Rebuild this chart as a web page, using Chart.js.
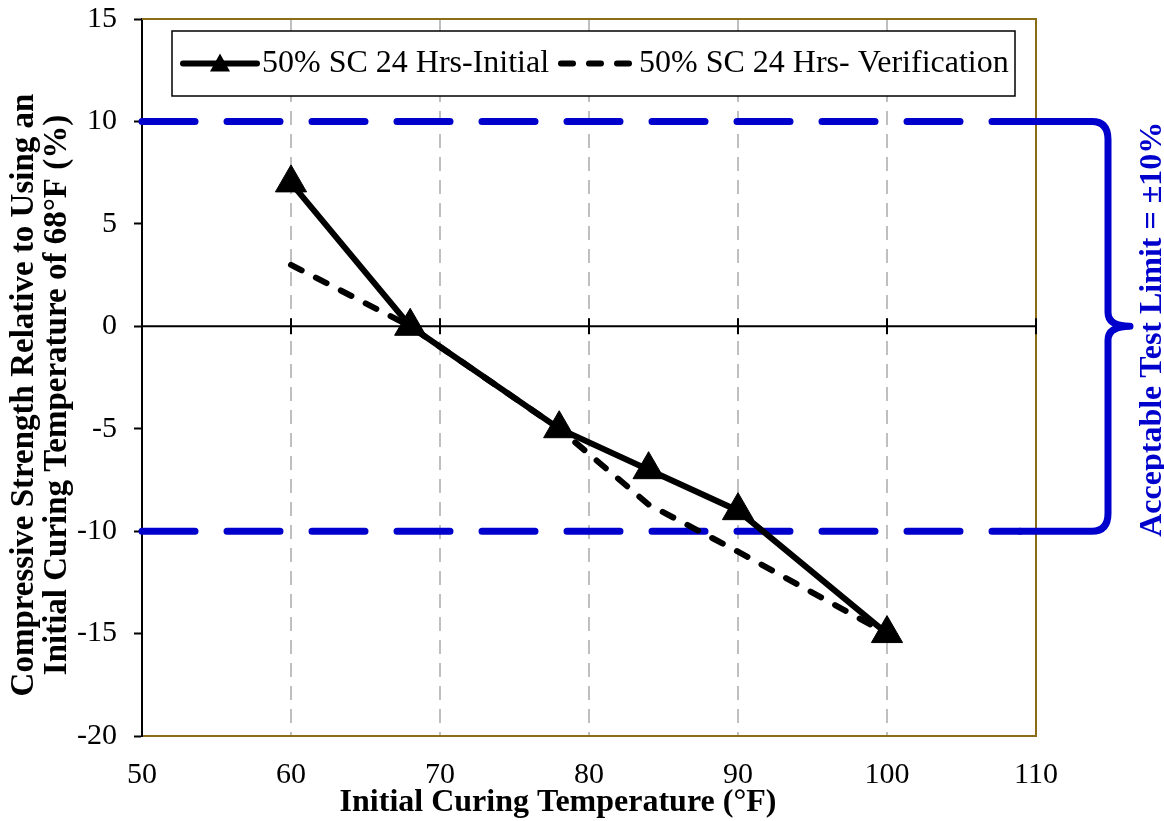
<!DOCTYPE html>
<html>
<head>
<meta charset="utf-8">
<script src="https://cdn.jsdelivr.net/npm/chart.js@4.4.1/dist/chart.umd.min.js"></script>
<style>
  html, body { margin: 0; padding: 0; background: #fff; }
  #wrap { width: 1164px; height: 821px; }
</style>
</head>
<body>
<div id="wrap"><canvas id="curingChart" width="1164" height="821"></canvas></div>
<script>
// Values
const temps = [60, 68, 78, 84, 90, 100];
const initialValues = [7, 0, -5, -7, -9, -15];
const verificationValues = [3, 0, -5, -8.7, -11, -15];
const limitValues = [10, -10];
const xTicks = [50, 60, 70, 80, 90, 100, 110];
const yTicks = [-20, -15, -10, -5, 0, 5, 10, 15];
const seriesLabels = ['50% SC 24 Hrs-Initial', '50% SC 24 Hrs- Verification'];

const serif = "'Liberation Serif', 'Times New Roman', serif";
const frameColor = '#8B6D17';
const limitBlue = '#0000CC';

// Draws the frame, zero line, limit lines, brace, legend and titles
const extras = {
    id: 'extras',
    beforeDatasetsDraw(chart) {
        const { ctx, chartArea: a, scales: { x, y } } = chart;
        ctx.save();

        // top and right edges of the plot frame
        ctx.strokeStyle = frameColor;
        ctx.lineWidth = 2;
        ctx.beginPath();
        ctx.moveTo(a.left, a.top);
        ctx.lineTo(a.right, a.top);
        ctx.lineTo(a.right, a.bottom);
        ctx.stroke();

        // zero line with crossing tick marks
        const y0 = y.getPixelForValue(0);
        ctx.strokeStyle = '#000';
        ctx.lineWidth = 2;
        ctx.beginPath();
        ctx.moveTo(a.left, y0);
        ctx.lineTo(a.right, y0);
        xTicks.forEach(t => {
            const px = x.getPixelForValue(t);
            ctx.moveTo(px, y0 - 8);
            ctx.lineTo(px, y0 + 8);
        });
        ctx.stroke();

        // acceptable limit lines (dashed blue)
        const braceStart = a.right - 16;
        ctx.strokeStyle = limitBlue;
        ctx.lineWidth = 7;
        ctx.lineCap = 'round';
        ctx.setLineDash([53, 32]);
        limitValues.forEach(v => {
            const py = y.getPixelForValue(v);
            ctx.beginPath();
            ctx.moveTo(a.left, py);
            ctx.lineTo(braceStart, py);
            ctx.stroke();
        });
        ctx.setLineDash([]);

        // curly brace
        const yTop = y.getPixelForValue(limitValues[0]);
        const yBot = y.getPixelForValue(limitValues[1]);
        const bx = a.right + 72;
        ctx.lineJoin = 'round';
        ctx.beginPath();
        ctx.moveTo(braceStart, yTop);
        ctx.lineTo(bx - 16, yTop);
        ctx.quadraticCurveTo(bx, yTop, bx, yTop + 18);
        ctx.lineTo(bx, y0 - 14);
        ctx.quadraticCurveTo(bx, y0, bx + 22, y0);
        ctx.quadraticCurveTo(bx, y0, bx, y0 + 14);
        ctx.lineTo(bx, yBot - 18);
        ctx.quadraticCurveTo(bx, yBot, bx - 16, yBot);
        ctx.lineTo(braceStart, yBot);
        ctx.stroke();

        // brace label
        ctx.translate(a.right + 117, y0 + 3);
        ctx.rotate(-Math.PI / 2);
        ctx.fillStyle = limitBlue;
        ctx.font = 'bold 32px ' + serif;
        ctx.textAlign = 'center';
        ctx.textBaseline = 'middle';
        ctx.fillText('Acceptable Test Limit = \u00B110%', 0, 0);
        ctx.restore();
    },
    afterDatasetsDraw(chart) {
        const { ctx, chartArea: a } = chart;
        const ds = chart.data.datasets;
        ctx.save();

        // legend box
        const lx = a.left + 30, ly = a.top + 12, lw = 843, lh = 65;
        const my = ly + lh / 2;
        ctx.fillStyle = '#fff';
        ctx.fillRect(lx, ly, lw, lh);
        ctx.strokeStyle = '#000';
        ctx.lineWidth = 1.5;
        ctx.strokeRect(lx, ly, lw, lh);

        ctx.font = '32px ' + serif;
        ctx.textBaseline = 'middle';
        ctx.textAlign = 'left';
        ctx.fillStyle = '#000';

        // entry 1: solid line with triangle
        ctx.strokeStyle = '#000';
        ctx.lineWidth = 6;
        ctx.lineCap = 'round';
        ctx.beginPath();
        ctx.moveTo(a.left + 41, my);
        ctx.lineTo(a.left + 115, my);
        ctx.stroke();
        const tx = a.left + 78;
        ctx.beginPath();
        ctx.moveTo(tx, my - 10);
        ctx.lineTo(tx + 10, my + 8);
        ctx.lineTo(tx - 10, my + 8);
        ctx.closePath();
        ctx.fill();
        ctx.fillText(ds[0].label, a.left + 120, my);

        // entry 2: dashed line
        ctx.setLineDash(ds[1].borderDash);
        ctx.beginPath();
        ctx.moveTo(a.left + 419, my);
        ctx.lineTo(a.left + 491, my);
        ctx.stroke();
        ctx.setLineDash([]);
        ctx.fillText(ds[1].label, a.left + 497, my);

        // axis titles
        ctx.font = 'bold 32px ' + serif;
        ctx.textAlign = 'center';
        ctx.fillText('Initial Curing Temperature (\u00B0F)', 558, 803);
        ctx.font = 'bold 33px ' + serif;
        ctx.translate(0, 395);
        ctx.rotate(-Math.PI / 2);
        ctx.fillText('Compressive Strength Relative to Using an', 0, 24);
        ctx.fillText('Initial Curing Temperature of 68\u00B0F (%)', 0, 57);
        ctx.restore();
    }
};

const ctx = document.getElementById('curingChart').getContext('2d');
const curingChart = new Chart(ctx, {
    type: 'scatter',
    data: {
        datasets: [{
            label: seriesLabels[0],
            data: temps.map((t, i) => ({ x: t, y: initialValues[i] })),
            showLine: true,
            borderColor: '#000',
            backgroundColor: '#000',
            borderWidth: 6,
            pointStyle: 'triangle',
            pointRadius: 18,
            pointHoverRadius: 18,
            pointBorderWidth: 1
        }, {
            label: seriesLabels[1],
            data: temps.map((t, i) => ({ x: t, y: verificationValues[i] })),
            showLine: true,
            borderColor: '#000',
            backgroundColor: '#000',
            borderWidth: 6,
            borderDash: [12, 16],
            borderCapStyle: 'round',
            pointRadius: 0,
            pointHoverRadius: 0
        }]
    },
    options: {
        responsive: false,
        animation: false,
        layout: { padding: { top: 17, right: 128, left: 0, bottom: 0 } },
        plugins: {
            legend: { display: false },
            tooltip: { enabled: false }
        },
        scales: {
            x: {
                type: 'linear',
                min: 50,
                max: 110,
                afterBuildTicks: s => { s.ticks = xTicks.map(v => ({ value: v })); },
                afterFit: s => { s.height = 85; s.paddingLeft = 0; s.paddingRight = 0; },
                ticks: {
                    color: '#000',
                    font: { family: serif, size: 30 },
                    padding: 21,
                    maxRotation: 0
                },
                grid: {
                    drawTicks: false,
                    lineWidth: 2,
                    color: c => (c.tick && (c.tick.value === 50 || c.tick.value === 110)) ? 'rgba(0,0,0,0)' : '#BFBFBF'
                },
                border: { color: frameColor, width: 2, dash: [14, 9] }
            },
            y: {
                min: -20,
                max: 15,
                afterBuildTicks: s => { s.ticks = yTicks.map(v => ({ value: v })); },
                afterFit: s => { s.width = 142; s.paddingTop = 0; s.paddingBottom = 0; },
                ticks: {
                    color: '#000',
                    font: { family: serif, size: 30 },
                    padding: 17
                },
                grid: {
                    drawOnChartArea: false,
                    drawTicks: true,
                    tickLength: 8,
                    tickColor: '#000',
                    tickWidth: 2
                },
                border: { color: '#000', width: 2 }
            }
        }
    },
    plugins: [extras]
});
</script>
</body>
</html>
